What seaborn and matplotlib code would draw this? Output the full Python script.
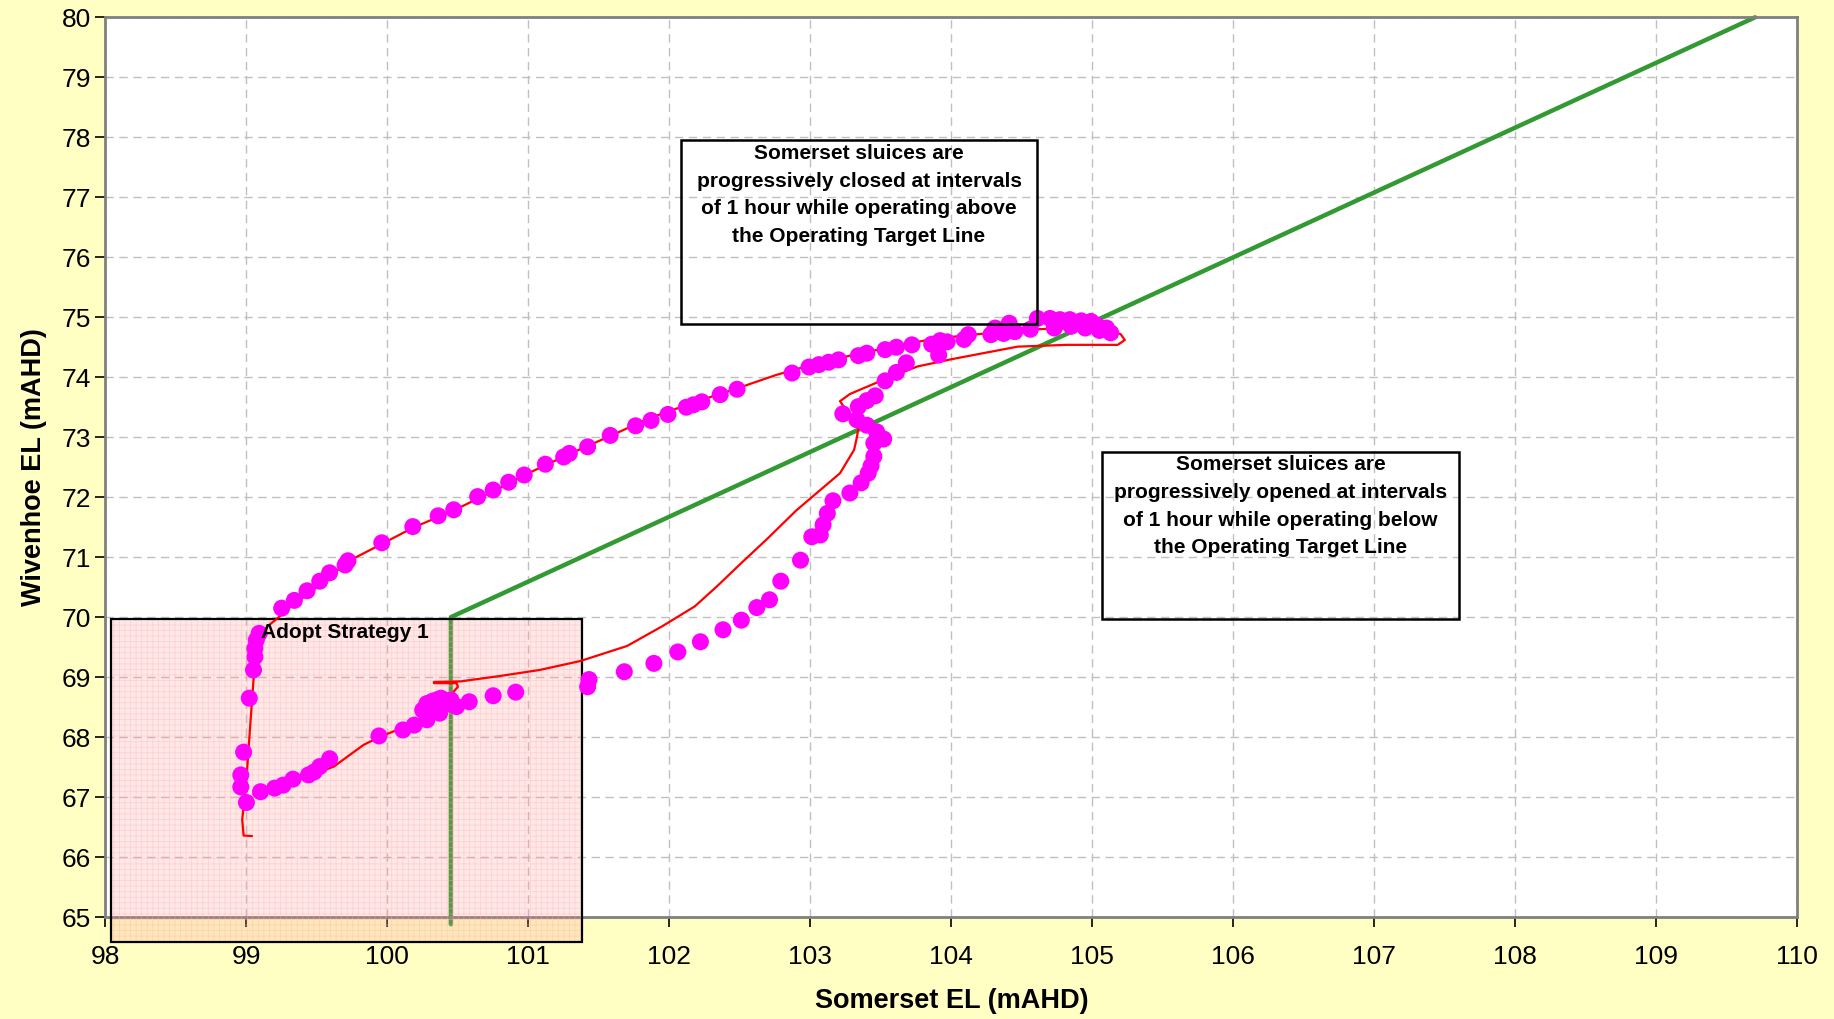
import matplotlib
matplotlib.use("Agg")
import matplotlib.pyplot as plt
import matplotlib.patches as mpatches
import seaborn as sns
import pandas as pd

# observed levels (markers)
obs_somerset = [99.00, 98.96, 98.96, 98.98, 99.02, 99.05, 99.06, 99.06, 99.07, 99.09,
                99.25, 99.34, 99.43, 99.52, 99.59, 99.70, 99.72, 99.96, 100.18, 100.36,
                100.47, 100.64, 100.75, 100.86, 100.97, 101.12, 101.25, 101.29, 101.42, 101.58,
                101.76, 101.87, 101.99, 102.12, 102.17, 102.23, 102.36, 102.48, 102.87, 102.99,
                103.06, 103.13, 103.20, 103.34, 103.40, 103.53, 103.61, 103.72, 103.86, 103.92,
                103.91, 103.97, 104.09, 104.12, 104.28, 104.31, 104.37, 104.41, 104.45, 104.56,
                104.61, 104.70, 104.73, 104.77, 104.84, 104.92, 104.99, 105.03, 105.10, 105.13,
                104.85, 104.95, 105.05,
                103.68, 103.61, 103.53, 103.46, 103.40, 103.34, 103.23, 103.33, 103.40, 103.47,
                103.52, 103.45, 103.45, 103.43, 103.41, 103.36, 103.28, 103.16, 103.12, 103.09,
                103.07, 103.01, 102.93, 102.79, 102.71, 102.62, 102.51, 102.38, 102.22, 102.06,
                101.89, 101.68, 101.43, 101.42, 100.91, 100.75, 100.58, 100.49, 100.45, 100.35,
                100.28, 100.40, 100.32, 100.42, 100.38, 100.30, 100.25, 100.37, 100.28, 100.19,
                100.11, 99.94, 99.59, 99.52, 99.48, 99.44, 99.33, 99.26, 99.20, 99.10]
obs_wivenhoe = [66.91, 67.17, 67.37, 67.75, 68.65, 69.12, 69.34, 69.48, 69.62, 69.73,
                70.15, 70.28, 70.44, 70.60, 70.74, 70.87, 70.94, 71.24, 71.51, 71.69,
                71.79, 72.01, 72.12, 72.25, 72.37, 72.55, 72.67, 72.73, 72.84, 73.03,
                73.19, 73.28, 73.38, 73.50, 73.54, 73.59, 73.71, 73.80, 74.07, 74.17,
                74.21, 74.25, 74.29, 74.36, 74.40, 74.46, 74.50, 74.54, 74.55, 74.61,
                74.37, 74.59, 74.63, 74.71, 74.71, 74.82, 74.73, 74.90, 74.76, 74.80,
                74.98, 74.98, 74.82, 74.96, 74.96, 74.94, 74.93, 74.87, 74.82, 74.74,
                74.85, 74.82, 74.78,
                74.24, 74.08, 73.94, 73.69, 73.61, 73.51, 73.39, 73.29, 73.20, 73.09,
                72.97, 72.90, 72.68, 72.52, 72.40, 72.24, 72.07, 71.94, 71.73, 71.54,
                71.37, 71.34, 70.95, 70.60, 70.29, 70.16, 69.95, 69.79, 69.59, 69.42,
                69.23, 69.09, 68.96, 68.84, 68.75, 68.69, 68.59, 68.51, 68.62, 68.62,
                68.56, 68.58, 68.60, 68.55, 68.65, 68.50, 68.45, 68.40, 68.29, 68.20,
                68.12, 68.02, 67.64, 67.51, 67.42, 67.37, 67.30, 67.20, 67.15, 67.09]

# modelled trajectory (red line)
path_somerset = [99.04, 98.98, 98.97, 99.00, 99.03, 99.05, 99.08, 99.10, 99.15, 99.22,
                 99.30, 99.50, 99.72, 99.96, 100.18, 100.47, 100.75, 101.00, 101.29, 101.58,
                 101.86, 102.20, 102.50, 102.76, 103.00, 103.28, 103.60, 103.83, 104.10, 104.35,
                 104.60, 104.90, 105.10, 105.20, 105.23, 105.18, 104.82, 104.47, 104.00, 103.76,
                 103.52, 103.28, 103.21, 103.24, 103.32, 103.34, 103.33, 103.31, 103.21, 103.07,
                 102.90, 102.70, 102.50, 102.34, 102.18, 101.95, 101.70, 101.37, 101.08, 100.80,
                 100.52, 100.33, 100.33, 100.49, 100.50, 100.47, 100.42, 100.19, 99.95, 99.83,
                 99.62, 99.45, 99.25, 99.05]
path_wivenhoe = [66.35, 66.36, 66.62, 67.30, 68.30, 68.95, 69.40, 69.56, 69.85, 69.98,
                 70.15, 70.50, 70.93, 71.22, 71.49, 71.78, 72.10, 72.40, 72.72, 73.02,
                 73.32, 73.60, 73.83, 74.04, 74.20, 74.36, 74.52, 74.62, 74.70, 74.75,
                 74.80, 74.82, 74.78, 74.72, 74.62, 74.54, 74.54, 74.51, 74.30, 74.18,
                 73.96, 73.72, 73.60, 73.50, 73.30, 73.15, 73.00, 72.79, 72.40, 72.12,
                 71.78, 71.32, 70.88, 70.52, 70.18, 69.85, 69.52, 69.27, 69.12, 69.02,
                 68.93, 68.92, 68.90, 68.90, 68.84, 68.76, 68.42, 68.23, 68.01, 67.87,
                 67.51, 67.36, 67.18, 67.05]

# operating target line
target_somerset = [100.45, 100.45, 109.70]
target_wivenhoe = [64.88, 70.00, 80.00]

closed_text = ("Somerset sluices are\nprogressively closed at intervals\n"
               "of 1 hour while operating above\nthe Operating Target Line")
opened_text = ("Somerset sluices are\nprogressively opened at intervals\n"
               "of 1 hour while operating below\nthe Operating Target Line")

sns.set_style("white")
plt.rcParams["font.family"] = ["Liberation Sans", "DejaVu Sans"]
plt.rcParams["text.color"] = "black"
plt.rcParams["axes.labelcolor"] = "black"
plt.rcParams["xtick.color"] = "black"
plt.rcParams["ytick.color"] = "black"

fig = plt.figure(figsize=(18.34, 10.19), dpi=100, facecolor="#FFFFC4")
ax = fig.add_axes([0.0575, 0.100, 0.9225, 0.883])
ax.set_facecolor("white")

df_target = pd.DataFrame({"x": target_somerset, "y": target_wivenhoe})
sns.lineplot(data=df_target, x="x", y="y", sort=False, estimator=None,
             color="#339933", linewidth=3.2, ax=ax, zorder=2, clip_on=False)

# Strategy 1 zone
zone_xy = (98.04, 64.59)
zone_w, zone_h = 101.38 - 98.04, 69.97 - 64.59
ax.add_patch(mpatches.Rectangle(zone_xy, zone_w, zone_h,
                                facecolor=(1.0, 0.55, 0.55, 0.20), edgecolor="none",
                                zorder=3, clip_on=False))
plt.rcParams["hatch.linewidth"] = 0.6
ax.add_patch(mpatches.Rectangle(zone_xy, zone_w, zone_h, facecolor="none",
                                edgecolor=(1.0, 0.7, 0.7, 0.45), hatch="+++",
                                linewidth=0, zorder=3, clip_on=False))
ax.add_patch(mpatches.Rectangle(zone_xy, zone_w, zone_h, facecolor="none",
                                edgecolor="black", linewidth=1.6,
                                zorder=3.5, clip_on=False))

df_path = pd.DataFrame({"x": path_somerset, "y": path_wivenhoe})
sns.lineplot(data=df_path, x="x", y="y", sort=False, estimator=None,
             color="red", linewidth=1.6, ax=ax, zorder=4)

df_obs = pd.DataFrame({"x": obs_somerset, "y": obs_wivenhoe})
sns.scatterplot(data=df_obs, x="x", y="y", color="#FF00FF", s=150,
                edgecolor="none", ax=ax, zorder=5)

ax.text(99.10, 69.74, "Adopt Strategy 1", fontsize=15, fontweight="bold",
        ha="left", va="center", zorder=6)

for x0, y0, x1, y1, txt in [(102.08, 74.89, 104.61, 77.95, closed_text),
                            (105.07, 69.97, 107.60, 72.76, opened_text)]:
    ax.add_patch(mpatches.Rectangle((x0, y0), x1 - x0, y1 - y0, facecolor="none",
                                    edgecolor="black", linewidth=1.8, zorder=6))
    ax.text((x0 + x1) / 2, y1 - 0.06, txt, fontsize=15, fontweight="bold",
            ha="center", va="top", linespacing=1.58, zorder=6)

ax.set_xlim(98, 110)
ax.set_ylim(65, 80)
ax.set_xticks(range(98, 111))
ax.set_yticks(range(65, 81))
ax.grid(True, color="#C0C0C0", linestyle=(0, (6, 4)), linewidth=1.0)
ax.tick_params(axis="both", direction="out", length=7, width=1.2, color="black",
               labelcolor="black", labelsize=19, left=True, bottom=True)
ax.tick_params(axis="x", pad=13)
for sp in ax.spines.values():
    sp.set_color("#808080")
    sp.set_linewidth(2)
ax.set_xlabel("Somerset EL (mAHD)", fontsize=19.5, fontweight="bold", labelpad=14)
ax.set_ylabel("Wivenhoe EL (mAHD)", fontsize=19.5, fontweight="bold", labelpad=10)

fig.savefig("out.png", dpi=100, facecolor=fig.get_facecolor())
